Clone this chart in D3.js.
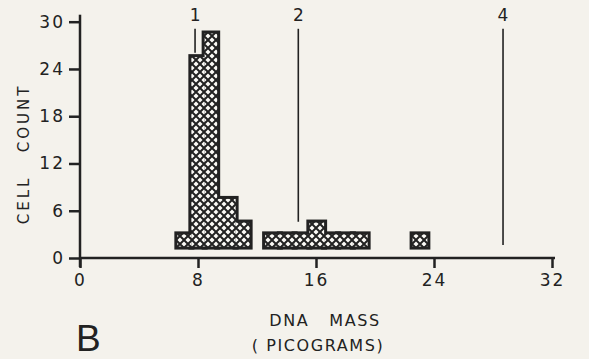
<!DOCTYPE html>
<html>
<head>
<meta charset="UTF-8">
<title>Cell count vs DNA mass</title>
<script src="https://d3js.org/d3.v7.min.js"></script>
<style>
    body {
        margin: 0;
        padding: 0;
        background-color: #f4f2ec;
    }
    text {
        font-family: "DejaVu Sans", "Liberation Sans", sans-serif;
        fill: #222;
    }
    .axis path, .axis line {
        stroke: #222;
        stroke-width: 2.5px;
    }
</style>
</head>
<body>
<div id="chart"></div>
<script>
    // histogram bins (DNA mass in picograms)
    var binStart = [6.6, 7.55, 8.45, 9.3, 10.55, 12.55, 13.55, 14.55, 15.55, 16.55, 17.5, 18.5, 22.55];
    var binEnd   = [7.55, 8.45, 9.3, 10.55, 11.5, 13.55, 14.55, 15.55, 16.55, 17.5, 18.5, 19.5, 23.55];
    var binTop   = [3, 25.5, 28.5, 7.5, 4.5, 3, 3, 3, 4.5, 3, 3, 3, 3];
    var barBase = 1.45;

    // reference lines for 1, 2 and 4 units of DNA
    var markLabels = ["1", "2", "4"];
    var markX = [7.8, 14.8, 28.68];
    var markFrom = [29.1, 29.1, 29.1];
    var markTo = [26.05, 4.6, 1.65];

    var xTicks = [0, 8, 16, 24, 32];
    var yTicks = [0, 6, 12, 18, 24, 30];

    var width = 589, height = 359;
    var ink = "#222";

    var x = d3.scaleLinear().domain([0, 32]).range([80, 552]);
    var y = d3.scaleLinear().domain([0, 30]).range([258, 21.7]);

    var svg = d3.select("#chart").append("svg")
        .attr("width", width)
        .attr("height", height);

    // cross hatch fill
    var pat = svg.append("defs").append("pattern")
        .attr("id", "hatch")
        .attr("patternUnits", "userSpaceOnUse")
        .attr("width", 8)
        .attr("height", 8);
    pat.append("rect").attr("width", 8).attr("height", 8).attr("fill", "#fbfaf6");
    pat.append("path")
        .attr("d", "M-2,-2L10,10M10,-2L-2,10")
        .attr("stroke", ink)
        .attr("stroke-width", 2);

    var bins = binStart.map(function(d, i) {
        return {x0: d, x1: binEnd[i], top: binTop[i]};
    });

    // thick outline first, then hatch on top so only the outer edge stays
    svg.append("g").selectAll("rect")
        .data(bins)
        .enter().append("rect")
        .attr("x", function(d) { return x(d.x0); })
        .attr("y", function(d) { return y(d.top); })
        .attr("width", function(d) { return x(d.x1) - x(d.x0); })
        .attr("height", function(d) { return y(barBase) - y(d.top); })
        .attr("fill", "none")
        .attr("stroke", ink)
        .attr("stroke-width", 6);

    svg.append("g").selectAll("rect")
        .data(bins)
        .enter().append("rect")
        .attr("x", function(d) { return x(d.x0); })
        .attr("y", function(d) { return y(d.top); })
        .attr("width", function(d) { return x(d.x1) - x(d.x0); })
        .attr("height", function(d) { return y(barBase) - y(d.top); })
        .attr("fill", "url(#hatch)");

    // vertical marker lines
    var marks = svg.append("g");
    markX.forEach(function(m, i) {
        marks.append("line")
            .attr("x1", x(m)).attr("x2", x(m))
            .attr("y1", y(markFrom[i])).attr("y2", y(markTo[i]))
            .attr("stroke", ink)
            .attr("stroke-width", 1.6);
        marks.append("text")
            .attr("x", x(m))
            .attr("y", 21)
            .attr("text-anchor", "middle")
            .style("font-size", "17px")
            .text(markLabels[i]);
    });

    // axes
    var xAxis = d3.axisBottom(x).tickValues(xTicks).tickSize(10).tickPadding(6).tickSizeOuter(0);
    var yAxis = d3.axisLeft(y).tickValues(yTicks).tickSize(11).tickPadding(4).tickSizeOuter(0);

    var gx = svg.append("g")
        .attr("class", "axis")
        .attr("transform", "translate(0," + y(0) + ")")
        .call(xAxis);
    gx.select(".domain").attr("d", "M" + x(0) + ",0H" + (x(32) + 3));
    gx.selectAll("text")
        .style("font-size", "17px")
        .style("letter-spacing", "2px")
        .attr("fill", ink);

    var gy = svg.append("g")
        .attr("class", "axis")
        .attr("transform", "translate(" + x(0) + ",0)")
        .call(yAxis);
    gy.select(".domain").attr("d", "M0," + (y(30) - 7) + "V" + (y(0) + 9));
    gy.selectAll("text")
        .style("font-size", "17px")
        .style("letter-spacing", "2px")
        .attr("fill", ink);

    // axis titles
    svg.append("text")
        .attr("transform", "translate(29,154) rotate(-90)")
        .attr("text-anchor", "middle")
        .style("font-size", "15px")
        .style("letter-spacing", "3px")
        .style("white-space", "pre")
        .text("CELL   COUNT");

    svg.append("text")
        .attr("x", 325)
        .attr("y", 326)
        .attr("text-anchor", "middle")
        .style("font-size", "16px")
        .style("letter-spacing", "1.6px")
        .style("white-space", "pre")
        .text("DNA   MASS");

    svg.append("text")
        .attr("x", 318)
        .attr("y", 351)
        .attr("text-anchor", "middle")
        .style("font-size", "16px")
        .style("letter-spacing", "1.6px")
        .style("white-space", "pre")
        .text("( PICOGRAMS)");

    svg.append("text")
        .attr("x", 76)
        .attr("y", 351)
        .style("font-family", "'Liberation Sans', sans-serif")
        .style("font-size", "37px")
        .text("B");
</script>
</body>
</html>
